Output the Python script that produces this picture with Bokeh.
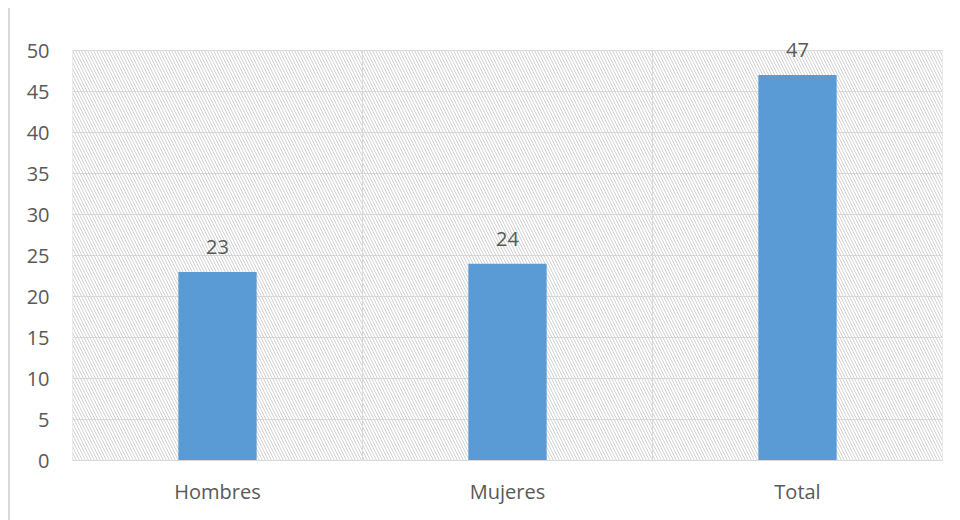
from bokeh.plotting import figure
from bokeh.models import ColumnDataSource, FixedTicker, Range1d, LabelSet
from bokeh.core.properties import value
from bokeh.embed import file_html
from bokeh.resources import INLINE

categories = ["Hombres", "Mujeres", "Total"]
values = [23, 24, 47]
y_ticks = [0, 5, 10, 15, 20, 25, 30, 35, 40, 45, 50]

n = len(categories)
xs = [i + 0.5 for i in range(n)]
source = ColumnDataSource(dict(x=xs, top=values, label=[str(v) for v in values]))
cells = ColumnDataSource(dict(left=list(range(n)), right=list(range(1, n + 1)),
                              bottom=[y_ticks[0]] * n, top=[y_ticks[-1]] * n))

FONT = "Open Sans"
TXT = "#595959"
GRID = "#d9d9d9"

# frame extends a little above the 50 line so the value labels are not clipped
p = figure(width=942, height=512, output_backend="svg", toolbar_location=None,
           x_range=Range1d(0, n), y_range=Range1d(0, 52.44),
           min_border_left=62, min_border_right=10, min_border_top=22, min_border_bottom=60)
p.styles = {"border-left": "2px solid #d9d9d9", "margin-left": "8px", "margin-top": "8px"}

p.background_fill_color = "white"
p.border_fill_color = "white"
p.outline_line_color = None

# hatched plot-area background with category separators / outline
p.quad(left="left", right="right", bottom="bottom", top="top", source=cells,
       fill_color=None, line_color=GRID, line_width=1,
       hatch_pattern="\\", hatch_color="#d2d2d2", hatch_scale=6, hatch_weight=1)

p.vbar(x="x", top="top", width=0.27, source=source,
       fill_color="#5B9BD5", line_color=None)

labels = LabelSet(x="x", y="top", text="label", source=source,
                  text_align="center", text_baseline="bottom", y_offset=18,
                  text_font=value(FONT), text_font_size=value("20px"), text_color=TXT)
p.add_layout(labels)

# grids
p.ygrid.ticker = FixedTicker(ticks=y_ticks)
p.ygrid.grid_line_color = GRID
p.xgrid.visible = False

# y axis
p.yaxis.ticker = FixedTicker(ticks=y_ticks)
p.yaxis.axis_line_color = None
p.yaxis.major_tick_line_color = None
p.yaxis.minor_tick_line_color = None
p.yaxis.major_label_standoff = 17
p.yaxis.major_label_text_font = FONT
p.yaxis.major_label_text_font_size = "20px"
p.yaxis.major_label_text_color = TXT

# x axis
p.xaxis.ticker = FixedTicker(ticks=xs)
p.xaxis.major_label_overrides = {x: c for x, c in zip(xs, categories)}
p.xaxis.axis_line_color = GRID
p.xaxis.major_tick_line_color = None
p.xaxis.minor_tick_line_color = None
p.xaxis.major_label_standoff = 11
p.xaxis.major_label_text_font = FONT
p.xaxis.major_label_text_font_size = "20px"
p.xaxis.major_label_text_color = TXT

open("out.html", "w").write(file_html(p, INLINE))
